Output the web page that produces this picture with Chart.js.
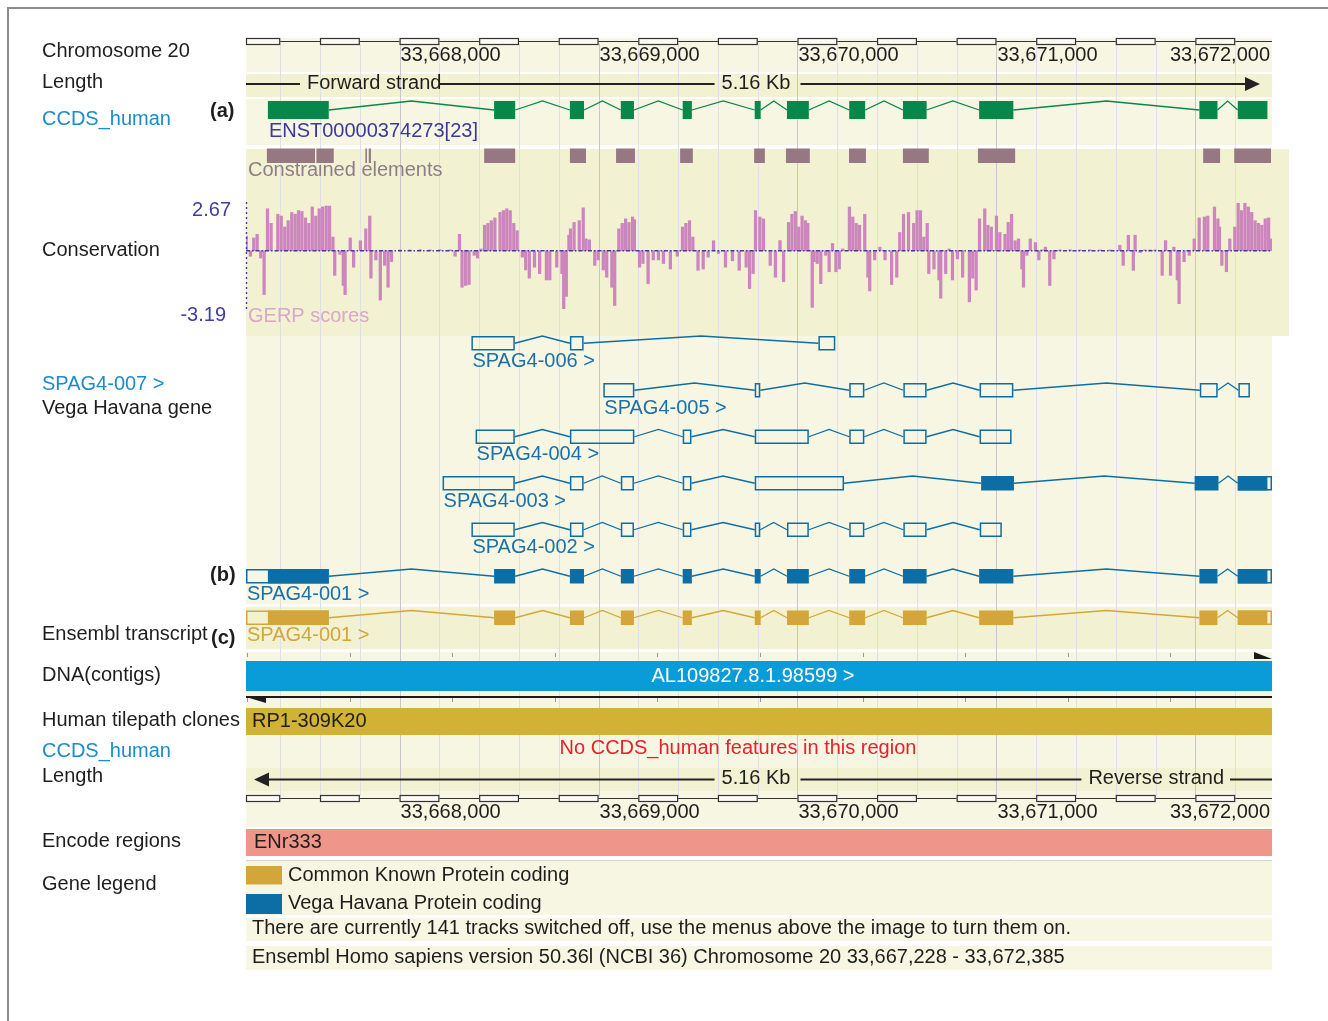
<!DOCTYPE html>
<html>
<head>
<meta charset="utf-8">
<script src="https://cdn.jsdelivr.net/npm/chart.js@4.4.1/dist/chart.umd.min.js"></script>
<style>
  html, body { margin: 0; padding: 0; background: #fff; }
  canvas { display: block; }
</style>
</head>
<body>
<canvas id="view" width="1328" height="1021"></canvas>
<script>
// Region shown (chromosome 20, NCBI 36)
const REGION_START = 33667228;
const REGION_END = 33672385;
const GERP_MAX = 2.67;
const GERP_MIN = -3.19;

const rulerLabels = [33668000, 33669000, 33670000, 33671000, 33672000];

// CCDS (coding only)
const ccdsExons = [
    [33667338, 33667644], [33668475, 33668581], [33668856, 33668927], [33669112, 33669178],
    [33669423, 33669469], [33669785, 33669815], [33669947, 33670057], [33670260, 33670340],
    [33670530, 33670649], [33670913, 33671085], [33672020, 33672111], [33672213, 33672362]
];

// Vega / Ensembl transcripts
const spag001Exons = [
    [33667228, 33667644], [33668475, 33668581], [33668856, 33668927], [33669112, 33669178],
    [33669423, 33669469], [33669785, 33669815], [33669947, 33670057], [33670260, 33670340],
    [33670530, 33670649], [33670913, 33671085], [33672020, 33672111], [33672213, 33672385]
];
const spag001Cds = [33667338, 33672362];

const spag002Exons = [
    [33668361, 33668579], [33668856, 33668925], [33669112, 33669178], [33669423, 33669467],
    [33669785, 33669813], [33669947, 33670057], [33670260, 33670336], [33670532, 33670649],
    [33670916, 33671027]
];

const spag003Exons = [
    [33668216, 33668579], [33668856, 33668925], [33669112, 33669178], [33669423, 33669467],
    [33669785, 33670234], [33670923, 33671088], [33671996, 33672116], [33672213, 33672385]
];
const spag003Cds = [33670923, 33672362];

const spag004Exons = [
    [33668382, 33668579], [33668856, 33669180], [33669423, 33669467], [33669785, 33670057],
    [33670260, 33670336], [33670532, 33670649], [33670915, 33671076]
];

const spag005Exons = [
    [33669024, 33669180], [33669785, 33669813], [33670260, 33670336], [33670532, 33670649],
    [33670915, 33671085], [33672022, 33672112], [33672216, 33672274]
];

const spag006Exons = [
    [33668361, 33668579], [33668856, 33668925], [33670105, 33670190]
];

const constrainedElements = [
    [33667333, 33667575], [33667582, 33667669], [33667828, 33667836], [33667845, 33667856],
    [33668425, 33668581], [33668856, 33668937], [33669088, 33669183], [33669410, 33669474],
    [33669782, 33669836], [33669942, 33670062], [33670259, 33670344], [33670530, 33670660],
    [33670907, 33671094], [33672039, 33672124], [33672195, 33672380]
];

// GERP scores: [bp offset from region start, score]
const gerpTrack = [
    [1, 0.8], [22, -0.3], [39, 0.7], [56, 0.9], [74, -0.4], [91, -2.4], [108, 2.3], [126, 1.5],
    [160, 2.0], [177, 1.9], [195, 1.3], [212, 1.65], [230, 2.1], [247, 2.0], [264, 2.2], [281, 2.15],
    [299, 1.8], [316, 1.5], [333, 2.4], [351, 1.9], [368, 2.3], [385, 2.4], [403, 2.45], [420, 2.45],
    [437, 0.75], [446, -1.35], [472, -0.2], [489, -1.9], [498, -2.4], [524, 0.7], [541, -0.9], [575, 0.55],
    [602, 1.2], [622, 1.9], [628, -1.5], [653, -0.5], [675, -2.7], [697, -0.8], [714, -2.0], [731, -0.6],
    [774, 0.05], [824, 0.05], [875, 0.06], [925, 0.05], [975, 0.06], [1025, 0.05],
    [1051, -0.3], [1073, 0.9], [1086, -2.0], [1104, -1.9], [1121, -1.85], [1147, -0.25], [1164, -0.4], [1181, 0.1],
    [1199, 1.4], [1216, 1.5], [1233, 1.65], [1251, 1.8], [1277, 2.1], [1294, 2.2], [1311, 2.3], [1328, 2.2],
    [1346, 1.5], [1363, 1.1], [1389, -0.35], [1406, -1.05], [1424, -1.5], [1450, -0.9], [1476, -1.25], [1510, -1.6],
    [1527, -1.6], [1562, -0.9], [1588, -1.25], [1597, -3.2], [1610, -2.5], [1623, 0.85], [1631, 1.2], [1649, 1.55],
    [1675, 1.65], [1695, 2.35], [1709, 0.65], [1726, 0.6], [1753, -0.8], [1770, -0.5], [1796, -1.05], [1813, -1.45],
    [1839, -2.0], [1853, -3.0], [1874, 1.2], [1891, 1.5], [1908, 1.75], [1925, 1.55], [1943, 1.85], [1952, 1.7],
    [1978, -0.9], [1995, -0.7], [2021, -1.8], [2047, -0.5], [2073, -0.5], [2098, -0.7], [2133, -1.0], [2168, -0.3],
    [2194, 1.3], [2211, 1.5], [2229, 1.65], [2246, 0.75], [2272, -1.07], [2298, -1.0], [2323, -0.35], [2350, 0.55],
    [2375, -0.15], [2410, -0.9], [2445, -0.55], [2479, -1.07], [2514, -0.9], [2531, -2.07], [2549, -1.25], [2561, 2.2],
    [2583, 1.85], [2601, 1.75], [2635, -0.8], [2661, -1.45], [2684, 0.56], [2702, -1.7], [2727, 1.55], [2744, 2.0],
    [2761, 2.15], [2778, 1.3], [2795, 1.9], [2812, 1.65], [2824, 1.5], [2846, -3.1], [2855, -0.6], [2871, -0.7],
    [2889, -1.8], [2914, -0.25], [2931, -1.15], [2948, 0.4], [2965, -1.15], [2982, -1.0], [2999, 0.1], [3033, 2.4],
    [3050, 1.85], [3067, 1.5], [3084, 1.4], [3110, 2.0], [3126, -1.45], [3135, -2.2], [3160, -0.5], [3186, 0.2],
    [3212, -0.5], [3245, -1.85], [3271, -1.45], [3286, 1.0], [3305, 2.0], [3330, 2.1], [3356, 1.5], [3373, 2.2],
    [3390, 2.2], [3407, 0.75], [3424, 1.5], [3432, -1.25], [3458, -1.0], [3483, -1.6], [3492, -2.6], [3517, -1.25],
    [3534, 0.1], [3551, -1.6], [3576, -0.45], [3602, -1.45], [3636, -2.8], [3653, -1.5], [3670, -2.15], [3687, 1.75],
    [3713, 2.3], [3729, 1.4], [3746, 1.3], [3772, 1.9], [3789, 1.0], [3815, 0.9], [3831, 1.55], [3848, 2.0],
    [3866, 0.55], [3883, 0.65], [3900, -1.0], [3908, -2.0], [3925, -0.25], [3942, 0.65], [3968, 0.45], [3985, -0.5],
    [4001, 0.05], [4018, 0.2], [4040, -1.9], [4061, -0.45], [4091, 0.05], [4142, 0.06], [4192, 0.05], [4242, 0.06],
    [4293, 0.05], [4343, 0.05], [4392, 0.3], [4409, -0.8], [4435, 0.85], [4460, -1.07], [4469, 0.85], [4494, -0.1],
    [4519, 0.05], [4544, 0.05], [4569, 0.05], [4605, -1.35], [4622, 0.56], [4647, -1.35], [4664, 0.2], [4681, -1.6],
    [4690, -2.9], [4715, -0.6], [4741, -0.25], [4766, 0.65], [4791, 1.8], [4817, 1.85], [4834, 1.9], [4868, 2.4],
    [4885, 1.75], [4893, 1.3], [4905, -0.8], [4928, -1.15], [4945, 0.65], [4970, 1.3], [4987, 2.6], [5004, 2.2],
    [5021, 2.6], [5038, 2.4], [5055, 2.1], [5072, 1.65], [5089, 1.5], [5106, 1.4], [5123, 1.75], [5140, 1.8],
    [5152, 0.65]
];

// Styles
const FONT = '20px "Liberation Sans", Arial, Helvetica, sans-serif';
const BOLD = 'bold 20px "Liberation Sans", Arial, Helvetica, sans-serif';
const C = {
    light: '#f6f6e2',
    dark: '#f2f2d3',
    text: '#1e1e1e',
    link: '#1b8bcb',
    ccds: '#06884a',
    vega: '#0d6ea6',
    ens: '#d4a53b',
    constrained: '#967883',
    gerp: '#cc86bd',
    axis: '#3d3da6',
    grid: '#dfdfe8',
    gridMajor: '#c6c6cc'
};

function label(ctx, str, x, y, color, align, font) {
    ctx.font = font || FONT;
    ctx.fillStyle = color || C.text;
    ctx.textAlign = align || 'left';
    ctx.textBaseline = 'middle';
    ctx.fillText(str, x, y);
}

function line(ctx, x1, y1, x2, y2) {
    ctx.beginPath();
    ctx.moveTo(x1, y1);
    ctx.lineTo(x2, y2);
    ctx.stroke();
}

function drawRuler(ctx, X, y, labelY) {
    const L = X(REGION_START), R = X(REGION_END);
    ctx.strokeStyle = '#333';
    ctx.lineWidth = 1.2;
    line(ctx, L, y, R, y);
    for (let s = Math.floor(REGION_START / 200) * 200; s < REGION_END; s += 200) {
        if ((s / 200) % 2 !== 0) continue;
        const a = X(Math.max(s, REGION_START)), b = X(Math.min(s + 200, REGION_END));
        ctx.fillStyle = '#fbfbf3';
        ctx.fillRect(a, y - 3, b - a, 6);
        ctx.strokeRect(a + 0.5, y - 3, b - a - 1, 6);
    }
    rulerLabels.forEach((v, i) => {
        const str = v.toLocaleString('en-US');
        if (i === rulerLabels.length - 1) label(ctx, str, R - 2, labelY, C.text, 'right');
        else label(ctx, str, X(v) + 1, labelY, C.text, 'left');
    });
}

function drawStrand(ctx, X, y, forward) {
    const L = X(REGION_START), R = X(REGION_END);
    ctx.font = FONT;
    const mid = 756;
    const kb = '5.16 Kb';
    const kw = ctx.measureText(kb).width;
    ctx.strokeStyle = '#222';
    ctx.fillStyle = '#222';
    ctx.lineWidth = 2.2;
    if (forward) {
        const t = 'Forward strand';
        const tw = ctx.measureText(t).width;
        line(ctx, L, y, L + 54, y);
        label(ctx, t, L + 61, y - 1);
        line(ctx, L + 59 + tw, y, mid - kw / 2 - 7, y);
        label(ctx, kb, mid, y - 1, C.text, 'center');
        line(ctx, mid + kw / 2 + 10, y, R - 26, y);
        ctx.fillStyle = '#222';
        ctx.beginPath();
        ctx.moveTo(R - 27, y - 7);
        ctx.lineTo(R - 12, y);
        ctx.lineTo(R - 27, y + 7);
        ctx.closePath();
        ctx.fill();
    } else {
        const t = 'Reverse strand';
        const tw = ctx.measureText(t).width;
        ctx.beginPath();
        ctx.moveTo(L + 8, y);
        ctx.lineTo(L + 23, y - 7);
        ctx.lineTo(L + 23, y + 7);
        ctx.closePath();
        ctx.fill();
        line(ctx, L + 22, y, mid - kw / 2 - 7, y);
        label(ctx, kb, mid, y - 1, C.text, 'center');
        line(ctx, mid + kw / 2 + 10, y, R - 48 - tw - 7, y);
        label(ctx, t, R - 48, y - 1, C.text, 'right');
        line(ctx, R - 42, y, R, y);
    }
}

function drawTranscript(ctx, X, exons, cds, top, h, color) {
    ctx.strokeStyle = color;
    ctx.fillStyle = color;
    ctx.lineWidth = 1.3;
    ctx.beginPath();
    for (let i = 0; i < exons.length - 1; i++) {
        const a = X(exons[i][1]), b = X(exons[i + 1][0]);
        ctx.moveTo(a, top + h / 2);
        ctx.lineTo((a + b) / 2, top);
        ctx.lineTo(b, top + h / 2);
    }
    ctx.stroke();
    ctx.lineWidth = 1.5;
    exons.forEach(([s, e]) => {
        const a = X(s), b = X(e);
        const coding = cds && e > cds[0] && s < cds[1];
        if (!cds || s < cds[0] || e > cds[1]) {
            ctx.strokeRect(a + 0.75, top + 0.75, b - a - 1.5, h - 1.5);
        }
        if (coding) {
            const ca = X(Math.max(s, cds[0])), cb = X(Math.min(e, cds[1]));
            ctx.fillRect(ca, top, cb - ca, h);
        }
    });
}

const tracksPlugin = {
    id: 'ensemblTracks',
    beforeDraw(chart) {
        const ctx = chart.ctx;
        const X = v => chart.scales.x.getPixelForValue(v);
        const L = X(REGION_START), R = X(REGION_END);
        ctx.save();
        ctx.fillStyle = '#fff';
        ctx.fillRect(0, 0, chart.width, chart.height);
        ctx.strokeStyle = '#8c8c8c';
        ctx.lineWidth = 2;
        ctx.beginPath();
        ctx.moveTo(8, chart.height);
        ctx.lineTo(8, 8);
        ctx.lineTo(chart.width, 8);
        ctx.stroke();

        const bands = [
            [38, 72, C.light], [74, 97, C.dark], [99, 145, C.light],
            [336, 604, C.light], [607, 649, C.dark], [652, 827, C.light],
            [768, 791, C.dark], [861, 915, C.light], [918, 941, C.light], [946, 970, C.light]
        ];
        bands.forEach(([y0, y1, col]) => {
            ctx.fillStyle = col;
            ctx.fillRect(L, y0, R - L, y1 - y0);
        });
        // conservation block is a little wider than the others
        ctx.fillStyle = C.dark;
        ctx.fillRect(L, 149, R - L + 17, 187);
        ctx.strokeStyle = '#d6d6cc';
        ctx.lineWidth = 1;
        line(ctx, L, 860.5, R, 860.5);
        ctx.restore();
    },
    beforeDatasetsDraw(chart) {
        const ctx = chart.ctx;
        const X = v => chart.scales.x.getPixelForValue(v);
        ctx.save();
        // vertical grid, every 200 bp
        ctx.lineWidth = 1;
        for (let s = Math.ceil(REGION_START / 200) * 200; s < REGION_END; s += 200) {
            ctx.strokeStyle = s % 1000 === 0 ? C.gridMajor : C.grid;
            const x = Math.round(X(s)) + 0.5;
            line(ctx, x, 44, x, 796);
        }
        // constrained elements
        ctx.fillStyle = C.constrained;
        constrainedElements.forEach(([s, e]) => {
            ctx.fillRect(X(s), 148.5, X(e) - X(s), 14.5);
        });
        label(ctx, 'Constrained elements', X(REGION_START) + 2, 170.5, '#8f7d85');
        label(ctx, 'GERP scores', X(REGION_START) + 2, 316.5, '#d9a7c8');
        ctx.restore();
    },
    afterDatasetsDraw(chart) {
        const ctx = chart.ctx;
        const X = v => chart.scales.x.getPixelForValue(v);
        const Y = chart.scales.y;
        const L = X(REGION_START), R = X(REGION_END);
        ctx.save();

        // GERP axis + baseline
        ctx.strokeStyle = C.axis;
        ctx.lineWidth = 1.4;
        ctx.setLineDash([2, 3]);
        line(ctx, L + 0.5, Y.getPixelForValue(GERP_MAX), L + 0.5, Y.getPixelForValue(GERP_MIN));
        ctx.setLineDash([4, 2, 1.5, 2]);
        const y0 = Y.getPixelForValue(0);
        line(ctx, L, y0, R, y0);
        ctx.setLineDash([]);
        label(ctx, GERP_MAX.toFixed(2), 231, 210, C.axis, 'right');
        label(ctx, GERP_MIN.toFixed(2), 226, 315, C.axis, 'right');

        // rulers and strands
        drawRuler(ctx, X, 41.5, 55.5);
        drawStrand(ctx, X, 84, true);
        drawRuler(ctx, X, 798.5, 812);
        drawStrand(ctx, X, 779.5, false);

        // CCDS
        drawTranscript(ctx, X, ccdsExons, [ccdsExons[0][0], ccdsExons[ccdsExons.length - 1][1]], 101, 18, C.ccds);
        label(ctx, 'ENST00000374273[23]', X(ccdsExons[0][0]) + 1, 131, '#3a3a9e');

        // Vega transcripts
        const rows = [
            [spag006Exons, null, 336, 'SPAG4-006 >'],
            [spag005Exons, null, 383, 'SPAG4-005 >'],
            [spag004Exons, null, 429.5, 'SPAG4-004 >'],
            [spag003Exons, spag003Cds, 476, 'SPAG4-003 >'],
            [spag002Exons, null, 522.5, 'SPAG4-002 >'],
            [spag001Exons, spag001Cds, 569, 'SPAG4-001 >']
        ];
        rows.forEach(([ex, cds, top, name]) => {
            drawTranscript(ctx, X, ex, cds, top, 14.5, C.vega);
            label(ctx, name, X(ex[0][0]) + 1, top + 25, '#1c71aa');
        });
        // Ensembl transcript
        drawTranscript(ctx, X, spag001Exons, spag001Cds, 610.5, 14.5, C.ens);
        label(ctx, 'SPAG4-001 >', X(spag001Exons[0][0]) + 1, 635.5, C.ens);

        // DNA contigs
        ctx.strokeStyle = '#9a9a9a';
        ctx.lineWidth = 1;
        for (let k = 0; k < 10; k++) {
            const x = Math.round(X(REGION_START + (REGION_END - REGION_START) * k / 10)) + 1.5;
            line(ctx, x, 653, x, 657);
            line(ctx, x, 698, x, 702);
        }
        ctx.fillStyle = '#0a9bd9';
        ctx.fillRect(L, 661, R - L, 30);
        label(ctx, 'AL109827.8.1.98599 >', 753, 676.5, '#ffffff', 'center');
        ctx.fillStyle = '#1a1a1a';
        ctx.beginPath();
        ctx.moveTo(R - 18, 652);
        ctx.lineTo(R, 659);
        ctx.lineTo(R - 18, 659);
        ctx.closePath();
        ctx.fill();
        ctx.strokeStyle = '#1a1a1a';
        ctx.lineWidth = 2;
        line(ctx, L, 697, R, 697);
        ctx.beginPath();
        ctx.moveTo(L, 697);
        ctx.lineTo(L + 20, 697);
        ctx.lineTo(L + 20, 703);
        ctx.closePath();
        ctx.fill();

        // tilepath clone
        ctx.fillStyle = '#d2b234';
        ctx.fillRect(L, 708, R - L, 27);
        label(ctx, 'RP1-309K20', L + 6, 721.5, '#1e1e1e');

        label(ctx, 'No CCDS_human features in this region', 738, 748.5, '#e8202a', 'center');

        // Encode
        ctx.fillStyle = '#f0958a';
        ctx.fillRect(L, 829, R - L, 27);
        label(ctx, 'ENr333', L + 8, 842, '#1e1e1e');

        // gene legend
        ctx.fillStyle = C.ens;
        ctx.fillRect(L, 866, 36, 18.5);
        label(ctx, 'Common Known Protein coding', L + 42, 875);
        ctx.fillStyle = C.vega;
        ctx.fillRect(L, 894, 36, 20);
        label(ctx, 'Vega Havana Protein coding', L + 42, 903.5);

        label(ctx, 'There are currently 141 tracks switched off, use the menus above the image to turn them on.', L + 6, 928);
        label(ctx, 'Ensembl Homo sapiens version 50.36l (NCBI 36) Chromosome 20 33,667,228 - 33,672,385', L + 6, 957);

        // left column
        const left = [
            ['Chromosome 20', 51.5, C.text], ['Length', 82.5, C.text], ['CCDS_human', 119.5, C.link],
            ['Conservation', 250, C.text], ['SPAG4-007 >', 384.5, C.link], ['Vega Havana gene', 408.5, C.text],
            ['Ensembl transcript', 634.5, C.text], ['DNA(contigs)', 675.5, C.text],
            ['Human tilepath clones', 720.5, C.text], ['CCDS_human', 751.5, C.link], ['Length', 776.5, C.text],
            ['Encode regions', 841.5, C.text], ['Gene legend', 884.5, C.text]
        ];
        left.forEach(([t, y, col]) => label(ctx, t, 42, y, col));
        label(ctx, '(a)', 210, 111, '#1e1e1e', 'left', BOLD);
        label(ctx, '(b)', 210, 575, '#1e1e1e', 'left', BOLD);
        label(ctx, '(c)', 211, 638.5, '#1e1e1e', 'left', BOLD);
        ctx.restore();
    }
};

new Chart(document.getElementById('view'), {
    type: 'bar',
    data: {
        datasets: [{
            label: 'GERP scores',
            data: gerpTrack.map(([off, score]) => ({ x: REGION_START + off, y: score })),
            backgroundColor: C.gerp,
            borderWidth: 0,
            barThickness: 2.6
        }]
    },
    options: {
        responsive: false,
        animation: false,
        devicePixelRatio: 1,
        layout: { padding: { left: 246, right: 56, top: 202, bottom: 712 } },
        plugins: { legend: { display: false }, tooltip: { enabled: false } },
        scales: {
            x: { type: 'linear', min: REGION_START, max: REGION_END, offset: false, display: false },
            y: { min: GERP_MIN, max: GERP_MAX, display: false }
        }
    },
    plugins: [tracksPlugin]
});
</script>
</body>
</html>
